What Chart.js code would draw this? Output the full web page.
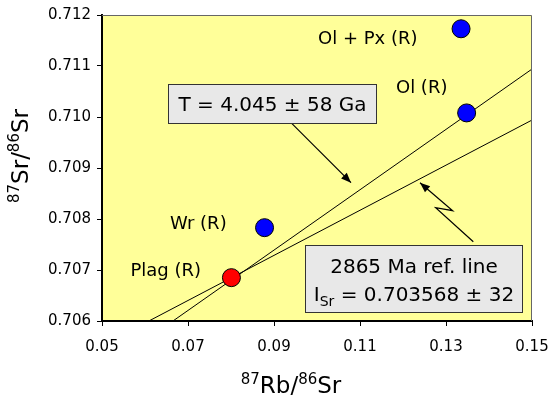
<!DOCTYPE html>
<html><head><meta charset="utf-8">
<script src="https://cdn.jsdelivr.net/npm/chart.js@4"></script>
<style>html,body{margin:0;padding:0;background:#fff}</style>
</head><body>
<canvas id="c" width="552" height="398"></canvas>
<script>
// ---- data ----
const sampleNames = ['Plag (R)', 'Wr (R)', 'Ol (R)', 'Ol + Px (R)'];
const rbSr = [0.0801, 0.0878, 0.1348, 0.1335];
const srSr = [0.70685, 0.70783, 0.71008, 0.71173];
const pointColors = ['#ff0000', '#0000ff', '#0000ff', '#0000ff'];
const isochronX = [0.0665, 0.15];
const isochronY = [0.706, 0.71094];
const refLineX = [0.0609, 0.15];
const refLineY = [0.706, 0.70994];
const xTicks = [0.05, 0.07, 0.09, 0.11, 0.13, 0.15];
const yTicks = [0.706, 0.707, 0.708, 0.709, 0.710, 0.711, 0.712];
const labelX = [0.06481, 0.0724, 0.12435, 0.1118];
const labelY = [0.70698, 0.707896, 0.710563, 0.711529];

// annotation anchors in data units
const box1 = {x0: 0.06535, x1: 0.11372, y0: 0.710647, y1: 0.709882};
const box2 = {x0: 0.09721, x1: 0.14760, y0: 0.70749, y1: 0.706182};
const arrow1 = [[0.09412, 0.709876], [0.10791, 0.708712]];
const arrow2 = [[0.13635, 0.707555], [0.12760, 0.708222], [0.13156, 0.708163], [0.12395, 0.708712]];

const FONT = "'DejaVu Sans', 'Liberation Sans', Arial, sans-serif";

function arrowHead(ctx, x0, y0, x1, y1) {
  const a = Math.atan2(y1 - y0, x1 - x0), L = 10, W = 4;
  ctx.beginPath();
  ctx.moveTo(x1, y1);
  ctx.lineTo(x1 - L * Math.cos(a) + W * Math.sin(a), y1 - L * Math.sin(a) - W * Math.cos(a));
  ctx.lineTo(x1 - L * Math.cos(a) - W * Math.sin(a), y1 - L * Math.sin(a) + W * Math.cos(a));
  ctx.closePath();
  ctx.fill();
}

const decor = {
  id: 'decor',
  beforeDraw(chart) {
    const {ctx, chartArea: a} = chart;
    ctx.save();
    ctx.fillStyle = '#ffff99';
    ctx.fillRect(a.left, a.top, a.right - a.left, a.bottom - a.top);
    ctx.restore();
  },
  afterDraw(chart) {
    const {ctx, chartArea: a} = chart;
    const xs = chart.scales.x, ys = chart.scales.y;
    const X = v => xs.getPixelForValue(v), Y = v => ys.getPixelForValue(v);
    ctx.save();
    // top/right border
    ctx.strokeStyle = '#666';
    ctx.lineWidth = 1;
    ctx.beginPath();
    ctx.moveTo(a.left, a.top + 0.5);
    ctx.lineTo(a.right - 0.5, a.top + 0.5);
    ctx.lineTo(a.right - 0.5, a.bottom);
    ctx.stroke();

    // sample labels
    ctx.fillStyle = '#000';
    ctx.font = '18px ' + FONT;
    ctx.textAlign = 'center';
    ctx.textBaseline = 'middle';
    sampleNames.forEach((n, i) => ctx.fillText(n, X(labelX[i]), Y(labelY[i])));

    // arrows
    ctx.strokeStyle = '#000';
    ctx.lineWidth = 1.2;
    ctx.beginPath();
    ctx.moveTo(X(arrow1[0][0]), Y(arrow1[0][1]));
    ctx.lineTo(X(arrow1[1][0]), Y(arrow1[1][1]));
    ctx.stroke();
    arrowHead(ctx, X(arrow1[0][0]), Y(arrow1[0][1]), X(arrow1[1][0]), Y(arrow1[1][1]));
    ctx.beginPath();
    arrow2.forEach((p, i) => i ? ctx.lineTo(X(p[0]), Y(p[1])) : ctx.moveTo(X(p[0]), Y(p[1])));
    ctx.stroke();
    const p2 = arrow2[2], p3 = arrow2[3];
    arrowHead(ctx, X(p2[0]), Y(p2[1]), X(p3[0]), Y(p3[1]));

    // boxes
    function box(b) {
      const x0 = Math.round(X(b.x0)) + 0.5, x1 = Math.round(X(b.x1)) + 0.5;
      const y0 = Math.round(Y(b.y0)) + 0.5, y1 = Math.round(Y(b.y1)) + 0.5;
      ctx.fillStyle = '#e8e8e8';
      ctx.fillRect(x0, y0, x1 - x0, y1 - y0);
      ctx.strokeStyle = '#333';
      ctx.lineWidth = 1;
      ctx.strokeRect(x0, y0, x1 - x0, y1 - y0);
      return {x0, x1, y0, y1, cx: (x0 + x1) / 2, cy: (y0 + y1) / 2};
    }
    const b1 = box(box1);
    ctx.fillStyle = '#000';
    ctx.font = '20px ' + FONT;
    ctx.textAlign = 'center';
    ctx.textBaseline = 'alphabetic';
    ctx.fillText('T = 4.045 \u00b1 58 Ga', b1.cx, b1.cy + 7);

    const b2 = box(box2);
    ctx.fillStyle = '#000';
    ctx.fillText('2865 Ma ref. line', b2.cx, b2.y0 + 27);
    // second line with subscript
    const s1 = 'I', sub = 'Sr', s2 = ' = 0.703568 \u00b1 32';
    ctx.font = '20px ' + FONT;
    const w1 = ctx.measureText(s1).width, w3 = ctx.measureText(s2).width;
    ctx.font = '14px ' + FONT;
    const w2 = ctx.measureText(sub).width;
    let sx = b2.cx - (w1 + w2 + w3) / 2;
    const base = b2.y0 + 55;
    ctx.textAlign = 'left';
    ctx.font = '20px ' + FONT;
    ctx.fillText(s1, sx, base); sx += w1;
    ctx.font = '14px ' + FONT;
    ctx.fillText(sub, sx, base + 5); sx += w2;
    ctx.font = '20px ' + FONT;
    ctx.fillText(s2, sx, base);

    // axis titles
    const MAIN = '23px ', SUP = '15px ';
    function supTitle(parts, startX, baseY) {
      let x = startX;
      parts.forEach(p => {
        ctx.font = (p.sup ? SUP : MAIN) + FONT;
        ctx.fillText(p.t, x, baseY - (p.sup ? 9 : 0));
        x += ctx.measureText(p.t).width;
      });
    }
    function partsWidth(parts) {
      let w = 0;
      parts.forEach(p => { ctx.font = (p.sup ? SUP : MAIN) + FONT; w += ctx.measureText(p.t).width; });
      return w;
    }
    ctx.fillStyle = '#000';
    ctx.textAlign = 'left';
    ctx.textBaseline = 'alphabetic';
    const xt = [{t: '87', sup: true}, {t: 'Rb/'}, {t: '86', sup: true}, {t: 'Sr'}];
    const xw = partsWidth(xt);
    supTitle(xt, 291 - xw / 2, 393);
    const yt = [{t: '87', sup: true}, {t: 'Sr/'}, {t: '86', sup: true}, {t: 'Sr'}];
    const yw = partsWidth(yt);
    ctx.save();
    ctx.translate(28, 156);
    ctx.rotate(-Math.PI / 2);
    supTitle(yt, -yw / 2, 0);
    ctx.restore();
    ctx.restore();
  }
};

const tickFont = {family: FONT, size: 15};

new Chart(document.getElementById('c'), {
  type: 'scatter',
  data: {
    datasets: [
      {
        type: 'scatter',
        data: rbSr.map((v, i) => ({x: v, y: srSr[i]})),
        backgroundColor: pointColors,
        borderColor: '#000',
        borderWidth: 1,
        pointRadius: 9,
        order: 1
      },
      {
        type: 'line',
        data: isochronX.map((v, i) => ({x: v, y: isochronY[i]})),
        borderColor: '#000', borderWidth: 1, pointRadius: 0, fill: false, order: 2
      },
      {
        type: 'line',
        data: refLineX.map((v, i) => ({x: v, y: refLineY[i]})),
        borderColor: '#000', borderWidth: 1, pointRadius: 0, fill: false, order: 2
      }
    ]
  },
  options: {
    responsive: false,
    devicePixelRatio: 1,
    animation: false,
    layout: {padding: {top: 15, right: 20, left: 0, bottom: 0}},
    plugins: {legend: {display: false}, tooltip: {enabled: false}},
    scales: {
      x: {
        type: 'linear', min: 0.05, max: 0.15,
        afterBuildTicks: s => { s.ticks = xTicks.map(v => ({value: v})); },
        afterFit: s => { s.height = 77; s.paddingLeft = 0; s.paddingRight = 0; },
        ticks: {font: tickFont, color: '#000', padding: 12, maxRotation: 0, autoSkip: false,
          callback: v => Number(v).toFixed(2)},
        grid: {drawOnChartArea: false, drawTicks: true, tickLength: 5, color: '#000'},
        border: {color: '#000', width: 2}
      },
      y: {
        type: 'linear', min: 0.706, max: 0.712,
        afterBuildTicks: s => { s.ticks = yTicks.map(v => ({value: v})); },
        afterFit: s => { s.width = 102; s.paddingTop = 0; s.paddingBottom = 0; },
        ticks: {font: tickFont, color: '#000', padding: 6, autoSkip: false,
          callback: v => Number(v).toFixed(3)},
        grid: {drawOnChartArea: false, drawTicks: true, tickLength: 5, color: '#000'},
        border: {color: '#000', width: 2}
      }
    }
  },
  plugins: [decor]
});
</script>
</body></html>
